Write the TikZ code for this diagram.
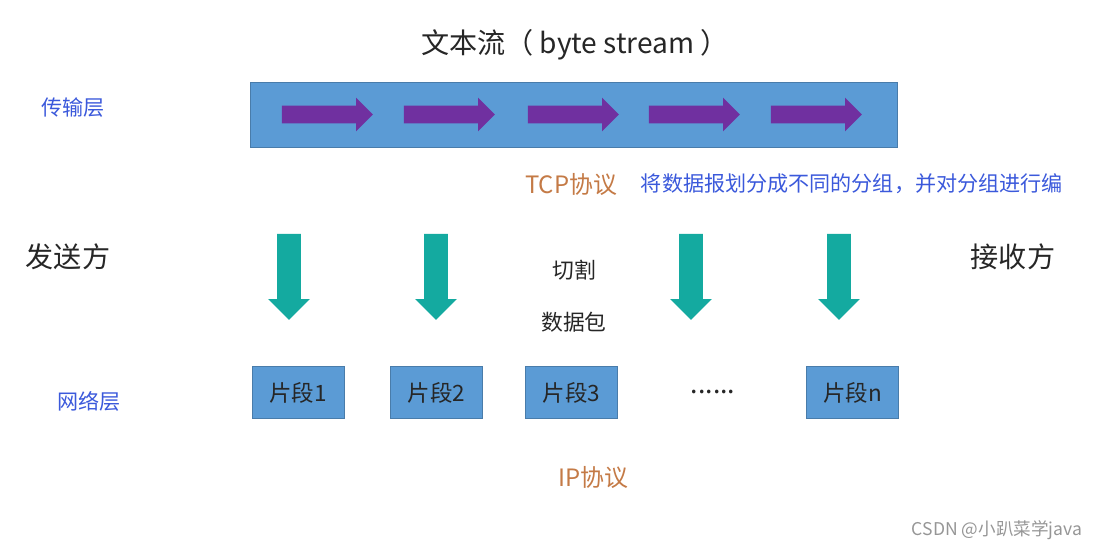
\documentclass[tikz,border=0pt]{standalone}
\usepackage{fontspec}
\setmainfont{Noto Sans CJK SC}
\usetikzlibrary{shapes.arrows}

\definecolor{barblue}{RGB}{91,155,213}
\definecolor{flowpurple}{RGB}{112,48,160}
\definecolor{cutteal}{RGB}{20,170,160}
\definecolor{labelblue}{RGB}{59,89,219}
\definecolor{protobrown}{RGB}{196,122,70}
\definecolor{textdark}{RGB}{38,38,38}
\definecolor{markgray}{RGB}{150,150,150}

\tikzset{
  seg/.style={fill=barblue,draw=barblue!80!black,line width=0.4pt,minimum width=2.3cm,minimum height=1.3cm,inner sep=0pt,text=textdark,font=\fontsize{16}{18}\selectfont},
  flowarrow/.style={single arrow,fill=flowpurple,inner sep=0.2125cm,single arrow head extend=0.2cm,minimum height=2.275cm},
  cutarrow/.style={single arrow,shape border rotate=270,fill=cutteal,inner sep=0.2875cm,single arrow head extend=0.225cm,minimum height=2.15cm},
  layer/.style={text=labelblue,font=\fontsize{15}{18}\selectfont},
  side/.style={text=textdark,font=\fontsize{20}{24}\selectfont},
  proto/.style={text=protobrown,font=\fontsize{17}{20}\selectfont},
  note/.style={text=textdark,font=\fontsize{15.5}{18}\selectfont},
}

\begin{document}
\begin{tikzpicture}[x=0.025cm,y=-0.025cm]
\useasboundingbox (0,0) rectangle (1106,550);
% transport layer
\node[side] (title) at (575,45) {文本流（ byte stream ）};
\node[fill=barblue,draw=barblue!80!black,line width=0.4pt,minimum width=16.175cm,minimum height=1.625cm,inner sep=0pt] (stream) at (573.5,114.5) {};
\foreach \x [count=\i] in {323,445,569,690,812}
  \node[flowarrow] (flow\i) at (\x,114.5) {};
\node[layer] (transport) at (73,108) {传输层};
\node[proto] (tcp) at (571,185) {TCP协议};
\node[layer,anchor=west] (split) at (636,184) {将数据报划分成不同的分组，并对分组进行编};
% sender / receiver
\node[side] (sender) at (68,257) {发送方};
\node[side] (receiver) at (1013,257) {接收方};
\foreach \x [count=\i] in {289,436,691,839}
  \node[cutarrow] (cut\i) at (\x,271) {};
\node[note] (cutting) at (574,270) {切割};
\node[note] (packet) at (574,322) {数据包};
% network layer
\node[layer] (network) at (89,401) {网络层};
\node[seg] (seg1) at (298,392.5) {片段1};
\node[seg] (seg2) at (436.5,392.5) {片段2};
\node[seg] (seg3) at (571.5,392.5) {片段3};
\node[note,font=\fontsize{19}{20}\selectfont] (dots) at (713,392) {......};
\node[seg] (segn) at (852.5,392.5) {片段n};
\node[proto] (ip) at (593,477) {IP协议};
\node[text=markgray,font=\fontsize{12.5}{14}\selectfont] (mark) at (997,530) {CSDN @小趴菜学java};
\end{tikzpicture}
\end{document}
